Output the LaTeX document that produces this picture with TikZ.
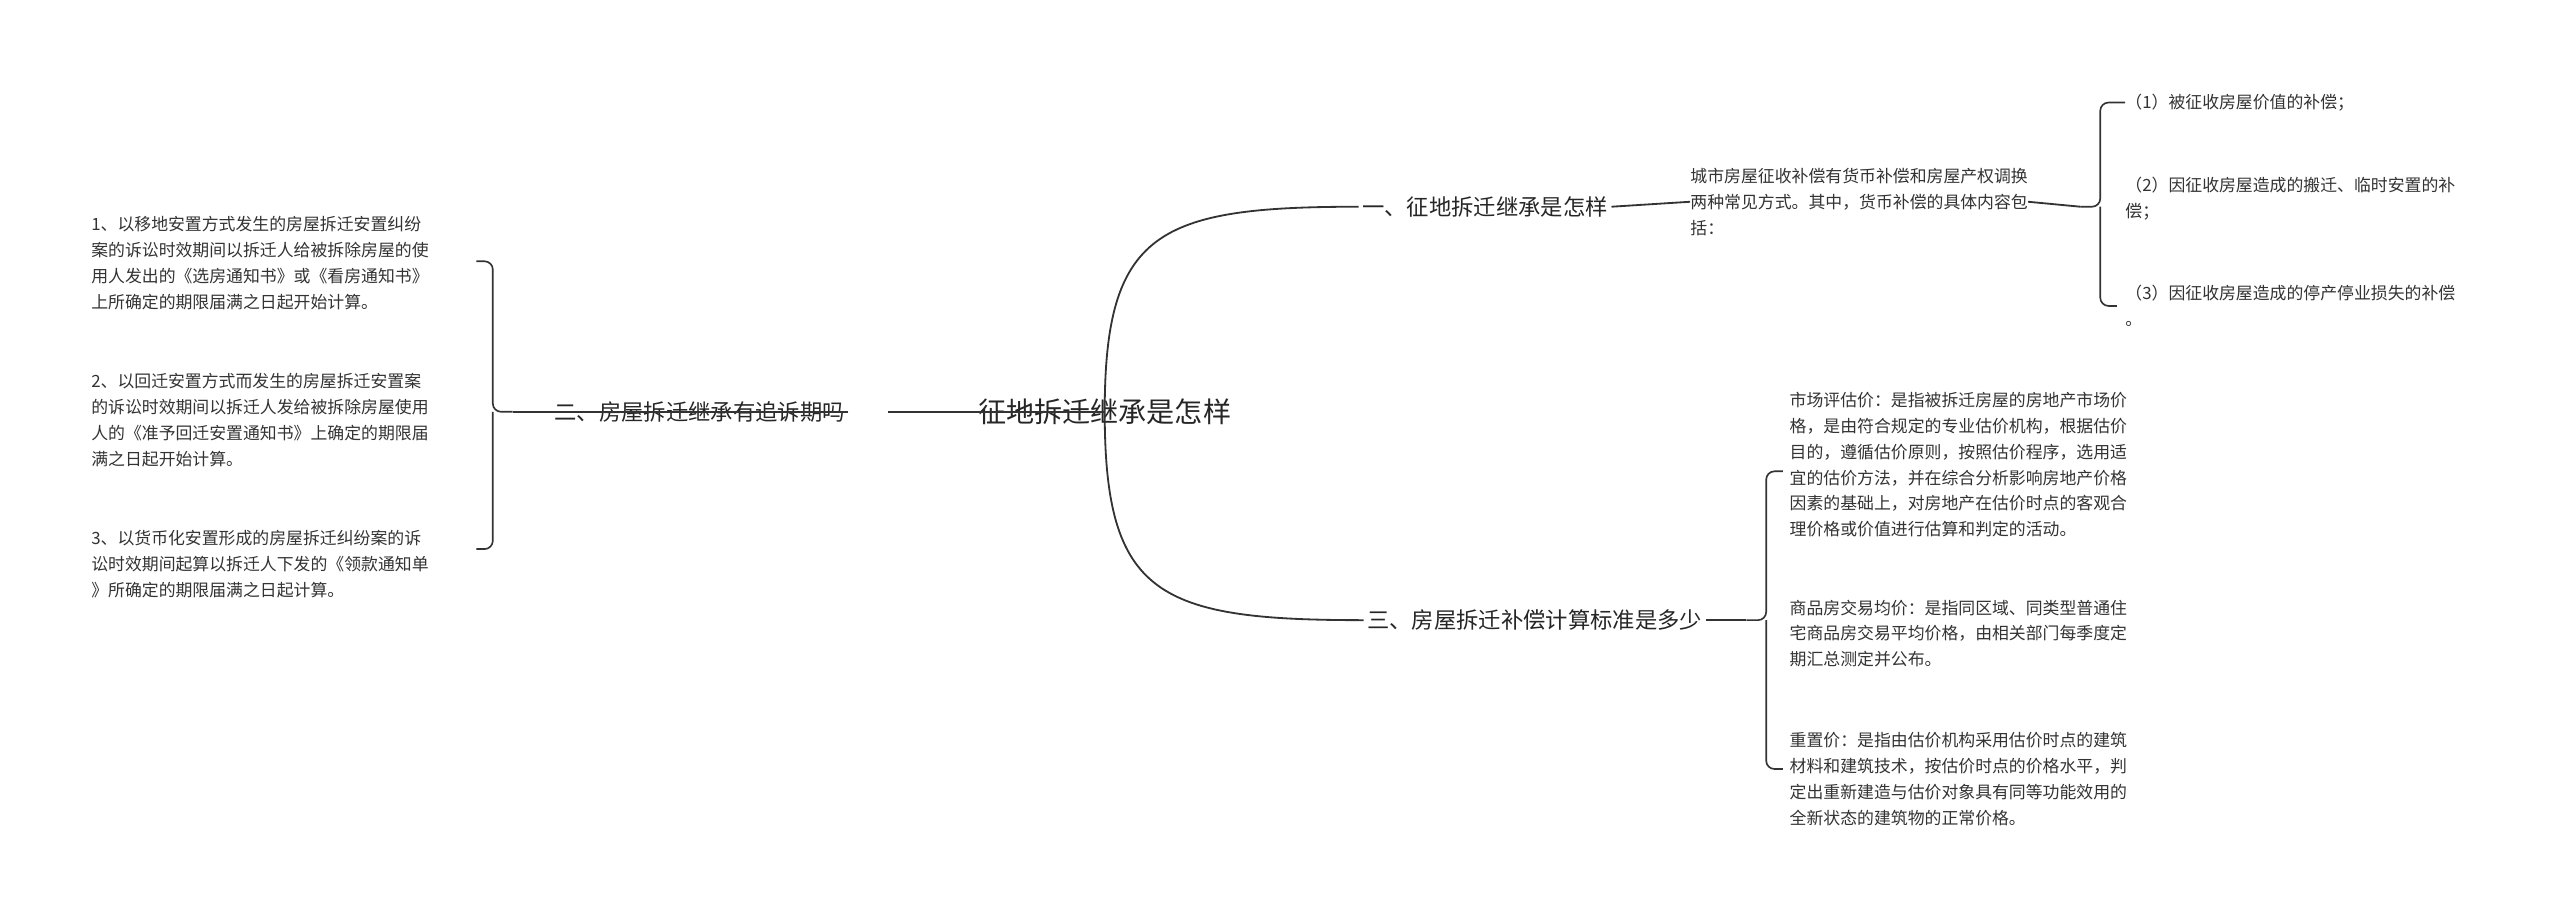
\documentclass[tikz,border=0pt]{standalone}
\usepackage{fontspec}
\setmainfont{Noto Sans CJK SC}
\XeTeXlinebreaklocale "zh"
\XeTeXlinebreakskip=0pt plus 1pt
\begin{document}
\begin{tikzpicture}[x=1pt,y=-1pt,
  ln/.style={draw=black!80,line width=1.1pt},
  br/.style={draw=black!80,line width=1pt,rounded corners=5pt},
  txt/.style={anchor=west,align=left,inner sep=0pt,text=black!80,font=\fontsize{10.2}{15.6}\selectfont},
  bt/.style={inner sep=2pt,text=black!85,font=\fontsize{13.5}{16}\selectfont}]
\useasboundingbox[fill=white] (0,0) rectangle (1548,546.6);
\node[bt,font=\fontsize{17}{20}\selectfont] (c) at (668,249) {征地拆迁继承是怎样};
\node[bt] (b1) at (898,125) {一、征地拆迁继承是怎样};
\node[bt] (b2) at (423,249) {二、房屋拆迁继承有追诉期吗};
\node[bt] (b3) at (928,375) {三、房屋拆迁补偿计算标准是多少};
\coordinate (o) at (668,249);
\draw[ln] (o) .. controls (668,140) and (700,125) .. (b1.west);
\draw[ln] (o) .. controls (668,360) and (700,375) .. (b3.west);
\draw[ln] (o) -- (537,249);
% branch 1
\node[txt] (t1) at (1022,122) {城市房屋征收补偿有货币补偿和房屋产权调换\\两种常见方式。其中，货币补偿的具体内容包\\括：};
\draw[ln] (b1.east) -- (t1.west);
\node[txt] (a1) at (1285,62) {（1）被征收房屋价值的补偿；};
\node[txt] (a2) at (1285,120) {（2）因征收房屋造成的搬迁、临时安置的补\\偿；};
\node[txt] (a3) at (1285,185) {（3）因征收房屋造成的停产停业损失的补偿\\。};
\coordinate (m1) at (1258,125);
\draw[br] (a1.west) -- (1270,62) -- (1270,125) -- (m1);
\draw[br] (1280,185) -- (1270,185) -- (1270,125);
\draw[ln] (t1.east) -- (m1);
% branch 3
\node[txt] (c1) at (1082,281) {市场评估价：是指被拆迁房屋的房地产市场价\\格，是由符合规定的专业估价机构，根据估价\\目的，遵循估价原则，按照估价程序，选用适\\宜的估价方法，并在综合分析影响房地产价格\\因素的基础上，对房地产在估价时点的客观合\\理价格或价值进行估算和判定的活动。};
\node[txt] (c2) at (1082,383) {商品房交易均价：是指同区域、同类型普通住\\宅商品房交易平均价格，由相关部门每季度定\\期汇总测定并公布。};
\node[txt] (c3) at (1082,471) {重置价：是指由估价机构采用估价时点的建筑\\材料和建筑技术，按估价时点的价格水平，判\\定出重新建造与估价对象具有同等功能效用的\\全新状态的建筑物的正常价格。};
\coordinate (m3) at (1056,375);
\draw[br] (1078,285) -- (1068,285) -- (1068,375) -- (m3);
\draw[br] (1078,465) -- (1068,465) -- (1068,375);
\draw[ln] (b3.east) -- (m3);
% branch 2
\node[txt] (d1) at (55,159) {1、以移地安置方式发生的房屋拆迁安置纠纷\\案的诉讼时效期间以拆迁人给被拆除房屋的使\\用人发出的《选房通知书》或《看房通知书》\\上所确定的期限届满之日起开始计算。};
\node[txt] (d2) at (55,254) {2、以回迁安置方式而发生的房屋拆迁安置案\\的诉讼时效期间以拆迁人发给被拆除房屋使用\\人的《准予回迁安置通知书》上确定的期限届\\满之日起开始计算。};
\node[txt] (d3) at (55,341) {3、以货币化安置形成的房屋拆迁纠纷案的诉\\讼时效期间起算以拆迁人下发的《领款通知单\\》所确定的期限届满之日起计算。};
\coordinate (m2) at (310,249);
\draw[br] (288,158) -- (298,158) -- (298,249) -- (m2);
\draw[br] (288,332) -- (298,332) -- (298,249);
\draw[ln] (b2.east) -- (m2);
\end{tikzpicture}
\end{document}
